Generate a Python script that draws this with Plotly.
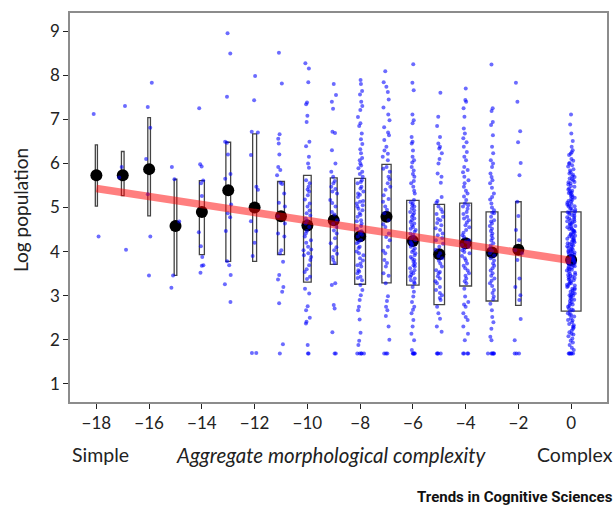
import plotly.graph_objects as go

# complexity score of each language group (x) and the summary values
groups = [-18, -17, -16, -15, -14, -13, -12, -11, -10, -9, -8, -7, -6, -5, -4, -3, -2, 0]
group_mean = [5.73, 5.73, 5.87, 4.58, 4.90, 5.39, 5.00, 4.80, 4.59, 4.71, 4.35, 4.79,
              4.24, 3.94, 4.19, 3.98, 4.04, 3.81]
box_low = [5.03, 5.27, 4.81, 3.46, 3.93, 3.78, 3.78, 3.93, 3.31, 3.71, 3.26, 3.29,
           3.24, 2.80, 3.22, 2.88, 2.78, 2.65]
box_high = [6.42, 6.27, 7.04, 5.64, 5.61, 6.48, 6.67, 5.59, 5.73, 5.67, 5.66, 5.98,
            5.16, 5.07, 5.10, 4.90, 5.13, 4.90]
box_width = [0.08, 0.10, 0.10, 0.10, 0.19, 0.18, 0.15, 0.26, 0.29, 0.26, 0.41, 0.35,
             0.47, 0.40, 0.45, 0.45, 0.21, 0.75]

# regression line end points
fit_x = [-18, 0]
fit_y = [5.43, 3.80]

# individual languages (log population) per group
pts_m18 = [7.12, 4.34]
pts_m17 = [7.30, 5.92, 5.68, 4.04]
pts_m16 = [7.83, 7.28, 6.81, 6.10, 5.30, 4.34, 3.46]
pts_m15 = [5.92, 5.64, 4.68, 3.46, 3.18]
pts_m14 = [7.25, 5.98, 5.93, 5.61, 5.55, 5.26, 4.44, 4.12, 3.88, 3.69, 3.68, 3.52]
pts_m13 = [8.95, 8.49, 7.51, 6.49, 6.47, 6.20, 5.76, 5.65, 5.07, 4.87, 4.78, 4.47,
           3.78, 3.69, 3.47, 3.26, 2.86]
pts_m12 = [7.98, 7.43, 6.72, 6.70, 6.19, 5.47, 5.40, 4.69, 4.47, 4.20, 3.90, 1.70, 1.70]
pts_m11 = [8.51, 7.81, 6.66, 6.56, 6.45, 6.20, 5.92, 5.85, 5.73, 5.56, 5.53, 5.32,
           5.11, 5.02, 4.80, 4.64, 4.41, 4.34, 4.03, 3.96, 3.77, 3.47, 3.37, 3.20,
           3.09, 2.83, 1.90, 1.69]
pts_m10 = [8.27, 8.15, 7.84, 7.38, 7.34, 7.08, 6.94, 6.49, 6.39, 6.15, 6.00, 5.90,
           5.55, 5.47, 5.36, 5.28, 5.09, 5.02, 4.87, 4.75, 4.64, 4.56, 4.41, 4.34,
           4.26, 4.11, 4.03, 3.96, 3.88, 3.81, 3.69, 3.54, 3.43, 3.16, 3.05, 2.76,
           2.67, 2.50, 2.41, 2.37, 1.88, 1.69, 1.69, 5.62, 5.18, 4.93, 4.70, 4.47,
           4.20, 3.92, 3.60, 3.38, 5.41, 4.82, 4.05]
pts_m9 = [7.80, 7.55, 7.40, 7.24, 6.72, 6.69, 6.30, 6.00, 5.81, 5.70, 5.55, 5.47,
          5.36, 5.32, 5.17, 5.02, 4.90, 4.71, 4.56, 4.41, 4.19, 4.03, 3.88, 3.81,
          3.28, 3.24, 2.79, 2.71, 2.17, 1.69, 1.69, 5.60, 5.42, 5.10, 4.84, 4.63,
          4.48, 4.30, 4.10, 3.95, 3.74]
pts_m8 = [7.89, 7.80, 7.64, 7.56, 7.40, 7.30, 7.21, 6.91, 6.85, 6.68, 6.44, 6.32,
          6.23, 6.07, 6.00, 5.89, 5.81, 5.76, 5.70, 5.62, 5.55, 5.43, 5.36, 5.32,
          5.24, 5.13, 5.09, 5.02, 4.94, 4.87, 4.79, 4.71, 4.64, 4.52, 4.41, 4.34,
          4.26, 4.19, 4.11, 4.00, 3.92, 3.85, 3.73, 3.66, 3.58, 3.51, 3.43, 3.35,
          3.24, 3.13, 3.01, 2.90, 2.75, 2.67, 2.46, 2.16, 1.98, 1.88, 1.69, 1.69,
          1.69, 1.69, 1.69, 5.58, 5.47, 5.29, 5.15, 5.05, 4.97, 4.83, 4.69, 4.58,
          4.46, 4.38, 4.22, 4.08, 3.96, 3.80, 3.69, 3.55, 3.40, 6.12, 5.95, 6.55, 7.05]
pts_m7 = [8.09, 7.84, 7.74, 7.62, 7.45, 7.27, 7.11, 6.98, 6.82, 6.64, 6.53, 6.38,
          6.29, 6.15, 6.07, 5.92, 5.81, 5.70, 5.55, 5.40, 5.28, 5.13, 5.02, 4.87,
          4.71, 4.56, 4.41, 4.26, 4.11, 3.96, 3.81, 3.66, 3.51, 3.28, 2.99, 2.88,
          2.75, 2.67, 2.54, 2.30, 2.00, 1.69, 1.69, 1.69, 5.88, 5.64, 5.47, 5.19,
          4.95, 4.62, 4.33, 4.02, 3.74, 3.45, 6.22, 6.70]
pts_m6 = [8.25, 7.83, 7.66, 7.11, 6.98, 6.91, 6.60, 6.49, 6.29, 6.15, 6.07, 5.92,
          5.76, 5.70, 5.55, 5.47, 5.32, 5.17, 5.09, 5.02, 4.94, 4.87, 4.79, 4.71,
          4.64, 4.56, 4.49, 4.41, 4.34, 4.26, 4.19, 4.11, 4.03, 3.96, 3.88, 3.81,
          3.73, 3.66, 3.58, 3.51, 3.43, 3.35, 3.28, 3.20, 3.09, 2.98, 2.86, 2.75,
          2.60, 2.30, 2.14, 1.99, 1.77, 1.69, 1.69, 1.69, 1.69, 1.69, 5.12, 5.05,
          4.98, 4.90, 4.83, 4.75, 4.67, 4.60, 4.52, 4.45, 4.38, 4.30, 4.22, 4.15,
          4.07, 3.99, 3.92, 3.84, 3.77, 3.69, 3.62, 3.54, 3.47, 3.39, 3.31, 5.38,
          5.60, 5.84, 6.02, 6.45, 2.68, 2.45]
pts_m5 = [7.60, 7.06, 6.85, 6.60, 6.38, 6.34, 6.23, 6.00, 5.77, 5.70, 5.56, 5.24,
          5.11, 5.02, 4.90, 4.79, 4.71, 4.60, 4.49, 4.37, 4.26, 4.11, 3.96, 3.85,
          3.73, 3.58, 3.51, 3.39, 3.28, 3.20, 3.13, 3.01, 2.90, 2.75, 2.60, 2.48,
          2.30, 1.69, 1.69, 1.69, 1.69, 4.96, 4.85, 4.74, 4.65, 4.53, 4.41, 4.31,
          4.18, 4.04, 3.90, 3.79, 3.66, 3.54, 3.44, 3.33, 3.06, 2.95, 5.15, 6.10,
          6.45, 2.18]
pts_m4 = [7.70, 7.44, 7.40, 7.25, 7.06, 6.79, 6.68, 6.57, 6.38, 6.26, 6.07, 5.92,
          5.85, 5.70, 5.55, 5.47, 5.32, 5.17, 5.09, 5.02, 4.90, 4.79, 4.71, 4.60,
          4.49, 4.37, 4.26, 4.19, 4.11, 4.03, 3.96, 3.85, 3.73, 3.62, 3.51, 3.39,
          3.28, 3.16, 2.98, 2.86, 2.75, 2.60, 2.45, 2.30, 2.14, 1.99, 1.69, 1.69,
          1.69, 1.69, 5.05, 4.97, 4.85, 4.75, 4.66, 4.55, 4.43, 4.33, 4.23, 4.15,
          4.07, 3.99, 3.90, 3.80, 3.68, 3.57, 3.45, 3.33, 5.25, 5.38, 5.62, 5.80,
          6.15, 6.48, 2.80, 2.52]
pts_m3 = [8.24, 7.25, 7.19, 6.94, 6.87, 6.64, 6.38, 6.23, 6.07, 5.92, 5.77, 5.62,
          5.55, 5.32, 5.24, 5.09, 4.94, 4.87, 4.71, 4.64, 4.52, 4.41, 4.30, 4.19,
          4.07, 3.96, 3.85, 3.73, 3.62, 3.51, 3.39, 3.28, 3.13, 2.98, 2.82, 2.67,
          2.52, 2.07, 1.99, 1.69, 1.69, 1.69, 1.69, 1.69, 1.69, 4.88, 4.79, 4.68,
          4.58, 4.47, 4.36, 4.25, 4.14, 4.02, 3.91, 3.80, 3.68, 3.57, 3.45, 3.34,
          3.22, 3.06, 2.92, 5.00, 5.18, 5.45, 5.69, 6.00, 2.40, 2.25]
pts_m2 = [7.83, 7.40, 6.73, 6.48, 6.01, 5.73, 5.13, 4.81, 4.49, 4.26, 4.03, 3.96,
          3.81, 3.39, 3.20, 3.01, 2.90, 2.47, 1.99, 1.69, 1.69, 1.69]
pts_0 = [7.11, 6.88, 6.68, 6.51, 6.38, 6.30, 6.22, 6.19, 6.10, 6.06, 6.01, 5.96,
         5.93, 5.87, 5.84, 5.80, 5.77, 5.71, 5.69, 5.66, 5.62, 5.58, 5.57, 5.52,
         5.49, 5.47, 5.43, 5.41, 5.36, 5.33, 5.31, 5.28, 5.24, 5.22, 5.19, 5.17,
         5.13, 5.11, 5.08, 5.05, 5.03, 4.99, 4.97, 4.95, 4.91, 4.89, 4.86, 4.83,
         4.81, 4.78, 4.77, 4.73, 4.71, 4.68, 4.66, 4.63, 4.61, 4.58, 4.55, 4.53,
         4.51, 4.48, 4.45, 4.44, 4.41, 4.38, 4.36, 4.33, 4.31, 4.29, 4.26, 4.24,
         4.21, 4.19, 4.17, 4.14, 4.12, 4.09, 4.07, 4.05, 4.02, 4.00, 3.98, 3.95,
         3.93, 3.91, 3.88, 3.86, 3.83, 3.81, 3.79, 3.76, 3.74, 3.72, 3.69, 3.67,
         3.64, 3.62, 3.60, 3.57, 3.55, 3.52, 3.50, 3.47, 3.45, 3.43, 3.40, 3.38,
         3.35, 3.33, 3.30, 3.28, 3.25, 3.22, 3.20, 3.17, 3.14, 3.12, 3.09, 3.06,
         3.03, 3.01, 2.98, 2.95, 2.92, 2.88, 2.85, 2.82, 2.78, 2.75, 2.71, 2.67,
         2.64, 2.60, 2.56, 2.53, 2.49, 2.45, 2.40, 2.36, 2.33, 2.30, 2.25, 2.21,
         2.17, 2.12, 2.08, 2.03, 1.98, 1.94, 1.88, 1.82, 1.77, 1.69, 1.69, 1.69,
         1.69, 1.69, 1.69, 6.25, 5.99, 5.74, 5.55, 5.38, 5.26, 5.15, 5.02, 4.93,
         4.85, 4.75, 4.64, 4.57, 4.47, 4.39, 4.28, 4.22, 4.11, 4.03, 3.96, 3.85,
         3.78, 3.70, 3.59, 3.48, 3.37, 3.27, 3.16, 3.05, 2.91, 2.80, 2.69, 2.57,
         2.44, 2.28, 2.14, 5.64, 5.34, 5.07, 4.88, 4.69, 4.50, 4.35, 4.16, 3.99,
         3.82, 3.65, 3.42, 3.23, 3.00]

group_points = [pts_m18, pts_m17, pts_m16, pts_m15, pts_m14, pts_m13, pts_m12,
                pts_m11, pts_m10, pts_m9, pts_m8, pts_m7, pts_m6, pts_m5, pts_m4,
                pts_m3, pts_m2, pts_0]

pt_x = []
pt_y = []
for g, vals in zip(groups, group_points):
    pt_x += [g] * len(vals)
    pt_y += vals

font = 'Lato, "Open Sans", sans-serif'
clear = 'rgba(0,0,0,0)'
ink = '#222222'

fig = go.Figure()

# rectangles per group
fig.add_trace(go.Bar(
    x=groups,
    y=[h - l for l, h in zip(box_low, box_high)],
    base=box_low,
    width=box_width,
    marker=dict(color=clear, line=dict(color='#444444', width=1.3)),
    hoverinfo='skip'
))

# group means (drawn under the individual points)
fig.add_trace(go.Box(
    x=groups, y=group_mean,
    boxpoints='all', jitter=0, pointpos=0, width=0.8,
    fillcolor=clear, line=dict(width=0, color=clear),
    marker=dict(color='black', size=12)
))

# individual languages, jittered by plotly
fig.add_trace(go.Box(
    x=pt_x, y=pt_y,
    boxpoints='all', jitter=0.4, pointpos=0, width=0.8,
    fillcolor=clear, line=dict(width=0, color=clear),
    marker=dict(color='rgba(0,0,255,0.58)', size=4)
))

# regression line
fig.add_trace(go.Scatter(
    x=fit_x, y=fit_y, mode='lines',
    line=dict(color='rgba(255,0,0,0.5)', width=7.5),
    hoverinfo='skip'
))

axis_style = dict(
    showgrid=False, zeroline=False,
    showline=True, linecolor='#8c8c8c', linewidth=1.5, mirror=True,
    ticks='outside', ticklen=5, tickwidth=1.3, tickcolor=ink,
    tickfont=dict(family=font, size=17, color=ink)
)

fig.update_layout(
    width=616, height=506,
    margin=dict(l=70, r=7, t=13, b=104),
    plot_bgcolor='white', paper_bgcolor='white',
    showlegend=False, boxmode='overlay',
    xaxis=dict(range=[-19, 1.36], tickvals=list(range(-18, 1, 2)), **axis_style),
    yaxis=dict(range=[0.59, 9.41], tickvals=list(range(1, 10)), **axis_style),
    annotations=[
        dict(text='Log population', textangle=-90, xref='paper', yref='paper',
             x=-0.091, y=0.494, xanchor='center', yanchor='middle', showarrow=False,
             font=dict(family=font, size=19, color=ink)),
        dict(text='Simple', xref='paper', yref='paper', x=0.0, y=-0.136,
             xanchor='left', yanchor='middle', showarrow=False,
             font=dict(family=font, size=19.5, color=ink)),
        dict(text='<i>Aggregate morphological complexity</i>', xref='paper', yref='paper',
             x=0.487, y=-0.136, xanchor='center', yanchor='middle', showarrow=False,
             font=dict(family=font, size=20.5, color=ink)),
        dict(text='Complex', xref='paper', yref='paper', x=1.014, y=-0.136,
             xanchor='right', yanchor='middle', showarrow=False,
             font=dict(family=font, size=19.5, color=ink)),
        dict(text='<b>Trends in Cognitive Sciences</b>', xref='paper', yref='paper',
             x=1.014, y=-0.244, xanchor='right', yanchor='middle', showarrow=False,
             font=dict(family='Roboto, sans-serif', size=15, color='#111111')),
    ]
)

# drop the default page margin so the figure fills the window exactly
fig.write_html("out.html", config={'displayModeBar': False},
               post_script="document.body.style.margin='0';")
